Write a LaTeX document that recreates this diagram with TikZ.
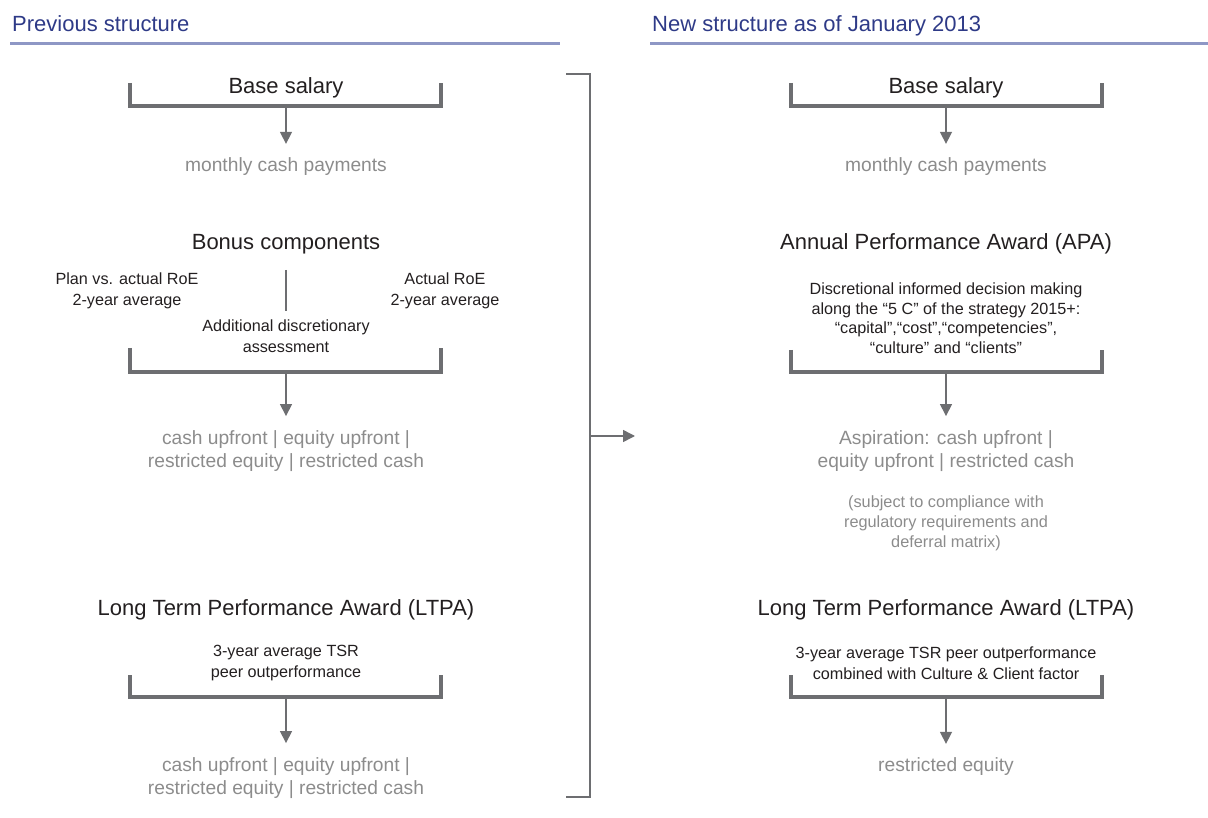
\documentclass[tikz,border=0pt]{standalone}
\usepackage{fontspec}
\setmainfont{Liberation Sans}
\usetikzlibrary{arrows.meta}
\definecolor{ttl}{HTML}{2E3A87}
\definecolor{rulec}{HTML}{8E97C5}
\definecolor{brk}{HTML}{6D6E71}
\definecolor{txt}{HTML}{231F20}
\definecolor{gry}{HTML}{8C8C8C}
\tikzset{
  hdr/.style={font=\fontsize{22}{26}\selectfont, text=ttl, anchor=base west, inner sep=0pt},
  big/.style={font=\fontsize{22}{26}\selectfont, text=txt, anchor=base, inner sep=0pt},
  sml/.style={font=\fontsize{16.2}{20.5}\selectfont, text=txt, align=center, inner sep=0pt},
  smltight/.style={font=\fontsize{16.2}{19.5}\selectfont, text=txt, align=center, inner sep=0pt},
  outp/.style={font=\fontsize{19.2}{23.5}\selectfont, text=gry, align=center, inner sep=0pt},
  note/.style={font=\fontsize{16.3}{20}\selectfont, text=gry, align=center, inner sep=0pt},
  brack/.style={draw=brk, line width=3.3pt},
  arr/.style={draw=brk, line width=1.5pt, -{Triangle[width=12pt,length=12pt]}},
  thinl/.style={draw=brk, line width=1.4pt},
  hrule/.style={draw=rulec, line width=3pt},
}
\begin{document}
\begin{tikzpicture}[x=1pt,y=-1pt]
\useasboundingbox (0,0) rectangle (1208,818);
% headers
\node[hdr] (h1) at (12,32) {Previous structure};
\node[hdr] (h2) at (652,32) {New structure as of January 2013};
\coordinate (r1a) at (10,44); \coordinate (r1b) at (560,44);
\coordinate (r2a) at (650,44); \coordinate (r2b) at (1208,44);
\draw[hrule] (r1a) -- (r1b);
\draw[hrule] (r2a) -- (r2b);

% ===== LEFT =====
\node[big] (lbase) at (286,94) {Base salary};
\coordinate (lb1a) at (130,83); \coordinate (lb1b) at (441,83);
\coordinate (lb1m) at (286,106);
\draw[brack] (lb1a) |- (lb1m) -| (lb1b);
\node[outp] (lmon) at (286,167) {monthly cash payments};
\draw[arr] (lb1m) -- ([yshift=14pt]lmon.north);

\node[big] (lbon) at (286,250) {Bonus components};
\node[sml] (lplan) at (127,291) {Plan vs. actual RoE\\2-year average};
\node[sml] (lact) at (445,291) {Actual RoE\\2-year average};
\coordinate (lv1) at (286,270); \coordinate (lv2) at (286,311);
\draw[thinl] (lv1) -- (lv2);
\node[sml] (ladd) at (286,336) {Additional discretionary\\assessment};
\coordinate (lb2a) at (130,348); \coordinate (lb2b) at (441,348);
\coordinate (lb2m) at (286,372);
\draw[brack] (lb2a) |- (lb2m) -| (lb2b);
\node[outp] (lcash1) at (286,451) {cash upfront | equity upfront |\\restricted equity | restricted cash};
\draw[arr] (lb2m) -- ([yshift=14pt]lcash1.north);

\node[big] (lltpa) at (286,615) {Long Term Performance Award (LTPA)};
\node[sml] (ltsr) at (286,663) {3-year average TSR\\peer outperformance};
\coordinate (lb3a) at (130,675); \coordinate (lb3b) at (441,675);
\coordinate (lb3m) at (286,697);
\draw[brack] (lb3a) |- (lb3m) -| (lb3b);
\node[outp] (lcash2) at (286,778) {cash upfront | equity upfront |\\restricted equity | restricted cash};
\draw[arr] (lb3m) -- ([yshift=14pt]lcash2.north);

% ===== big bracket =====
\coordinate (bgA) at (566,74); \coordinate (bgB) at (590,74);
\coordinate (bgC) at (590,797); \coordinate (bgD) at (566,797);
\coordinate (bgM) at (590,436); \coordinate (bgT) at (635,436);
\draw[thinl] (bgA) -- (bgB) -- (bgC) -- (bgD);
\draw[arr] (bgM) -- (bgT);

% ===== RIGHT =====
\node[big] (rbase) at (946,94) {Base salary};
\coordinate (rb1a) at (791,83); \coordinate (rb1b) at (1102,83);
\coordinate (rb1m) at (946,106);
\draw[brack] (rb1a) |- (rb1m) -| (rb1b);
\node[outp] (rmon) at (946,167) {monthly cash payments};
\draw[arr] (rb1m) -- ([yshift=14pt]rmon.north);

\node[big] (rapa) at (946,250) {Annual Performance Award (APA)};
\node[smltight] (rdisc) at (946,318) {Discretional informed decision making\\along the “5 C” of the strategy 2015+:\\“capital”,“cost”,“competencies”,\\“culture” and “clients”};
\coordinate (rb2a) at (791,350); \coordinate (rb2b) at (1102,350);
\coordinate (rb2m) at (946,372);
\draw[brack] (rb2a) |- (rb2m) -| (rb2b);
\node[outp] (rasp) at (946,451) {Aspiration: cash upfront |\\equity upfront | restricted cash};
\draw[arr] (rb2m) -- ([yshift=14pt]rasp.north);
\node[note] (rsub) at (946,523) {(subject to compliance with\\regulatory requirements and\\deferral matrix)};

\node[big] (rltpa) at (946,615) {Long Term Performance Award (LTPA)};
\node[sml] (rtsr) at (946,663) {3-year average TSR peer outperformance\\combined with Culture \& Client factor};
\coordinate (rb3a) at (791,675); \coordinate (rb3b) at (1102,675);
\coordinate (rb3m) at (946,697);
\draw[brack] (rb3a) |- (rb3m) -| (rb3b);
\node[outp] (rreq) at (946,767) {restricted equity};
\draw[arr] (rb3m) -- ([yshift=14pt]rreq.north);
\end{tikzpicture}
\end{document}
